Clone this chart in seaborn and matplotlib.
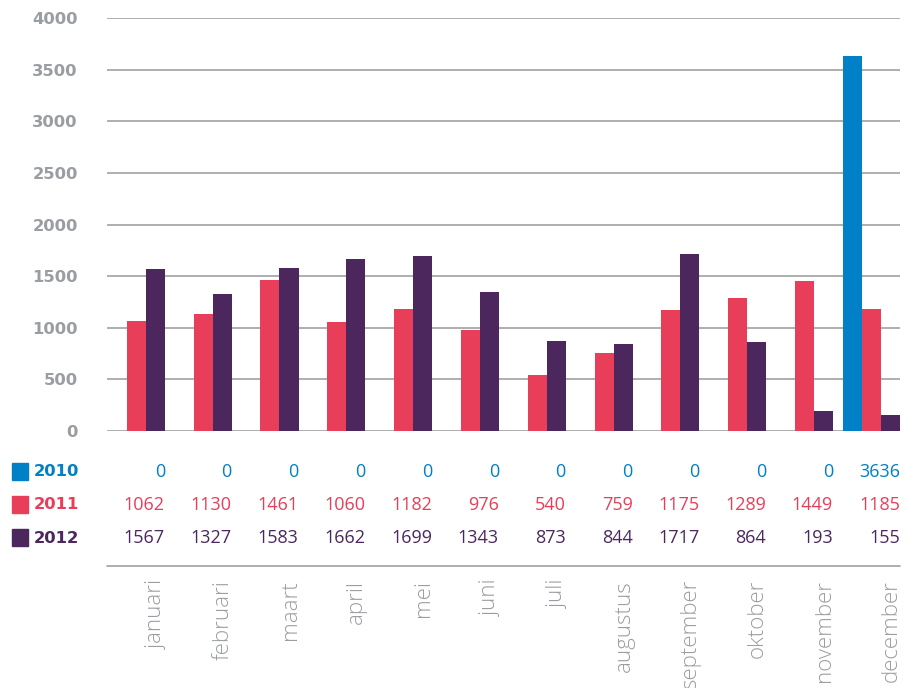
import matplotlib
matplotlib.use("Agg")
import matplotlib.pyplot as plt
import seaborn as sns
import pandas as pd

# data
months = ["januari", "februari", "maart", "april", "mei", "juni", "juli",
          "augustus", "september", "oktober", "november", "december"]
years = ["2010", "2011", "2012"]
v2010 = [0, 0, 0, 0, 0, 0, 0, 0, 0, 0, 0, 3636]
v2011 = [1062, 1130, 1461, 1060, 1182, 976, 540, 759, 1175, 1289, 1449, 1185]
v2012 = [1567, 1327, 1583, 1662, 1699, 1343, 873, 844, 1717, 864, 193, 155]
colors = ["#0080c6", "#e83e5a", "#4b275e"]

series = [v2010, v2011, v2012]
df = pd.DataFrame({
    "maand": months * 3,
    "jaar": [y for y in years for _ in months],
    "waarde": v2010 + v2011 + v2012,
})

sns.set_style("white")
plt.rcParams["font.family"] = ["Open Sans", "DejaVu Sans"]

fig = plt.figure(figsize=(9.14, 6.88), dpi=100)
ax = fig.add_axes([0.117, 0.3735, 0.8677, 0.6003])

sns.barplot(data=df, x="maand", y="waarde", hue="jaar", palette=colors,
            width=0.855, gap=0, dodge=True, legend=False, ax=ax, saturation=1,
            linewidth=0, edgecolor="none")

ax.set_xlim(-0.44, 11.43)
ax.set_ylim(0, 4000)
ax.set_yticks(range(0, 4001, 500))
ax.yaxis.grid(True, color="#a8a8a8", lw=1.3)
ax.set_axisbelow(True)
for s in ax.spines.values():
    s.set_visible(False)
ax.set_xticks([])
ax.set_xlabel("")
ax.set_ylabel("")
ax.tick_params(axis="y", length=0, pad=21)
for lab in ax.get_yticklabels():
    lab.set_family("DejaVu Sans")
    lab.set_fontweight("bold")
    lab.set_fontsize(11.8)
    lab.set_color("#9a9ea3")

# table beneath the bars
row_y = [0.314, 0.266, 0.218]
trans = matplotlib.transforms.blended_transform_factory(ax.transData, fig.transFigure)
bar_w = 0.855 / 3
for vals, year, col, yy in zip(series, years, colors, row_y):
    fig.patches.append(plt.Rectangle((0.013, yy - 0.011), 0.018, 0.024,
                                     transform=fig.transFigure, color=col))
    fig.text(0.037, yy, year, color=col, fontsize=11.8, fontweight="bold",
             family="DejaVu Sans", va="center", ha="left")
    for i, v in enumerate(vals):
        ax.text(i + 1.5 * bar_w, yy, str(v), transform=trans, color=col,
                fontsize=13, ha="right", va="center")

ax.plot([-0.44, 11.43], [0.177, 0.177], transform=trans, color="#a8a8a8",
        lw=1.3, clip_on=False)

for i, m in enumerate(months):
    ax.text(i + 0.3, 0.157, m, transform=trans, rotation=90, ha="center",
            va="top", fontsize=16, color="#9a9da1", fontweight="light")

fig.savefig("out.png", dpi=100)
